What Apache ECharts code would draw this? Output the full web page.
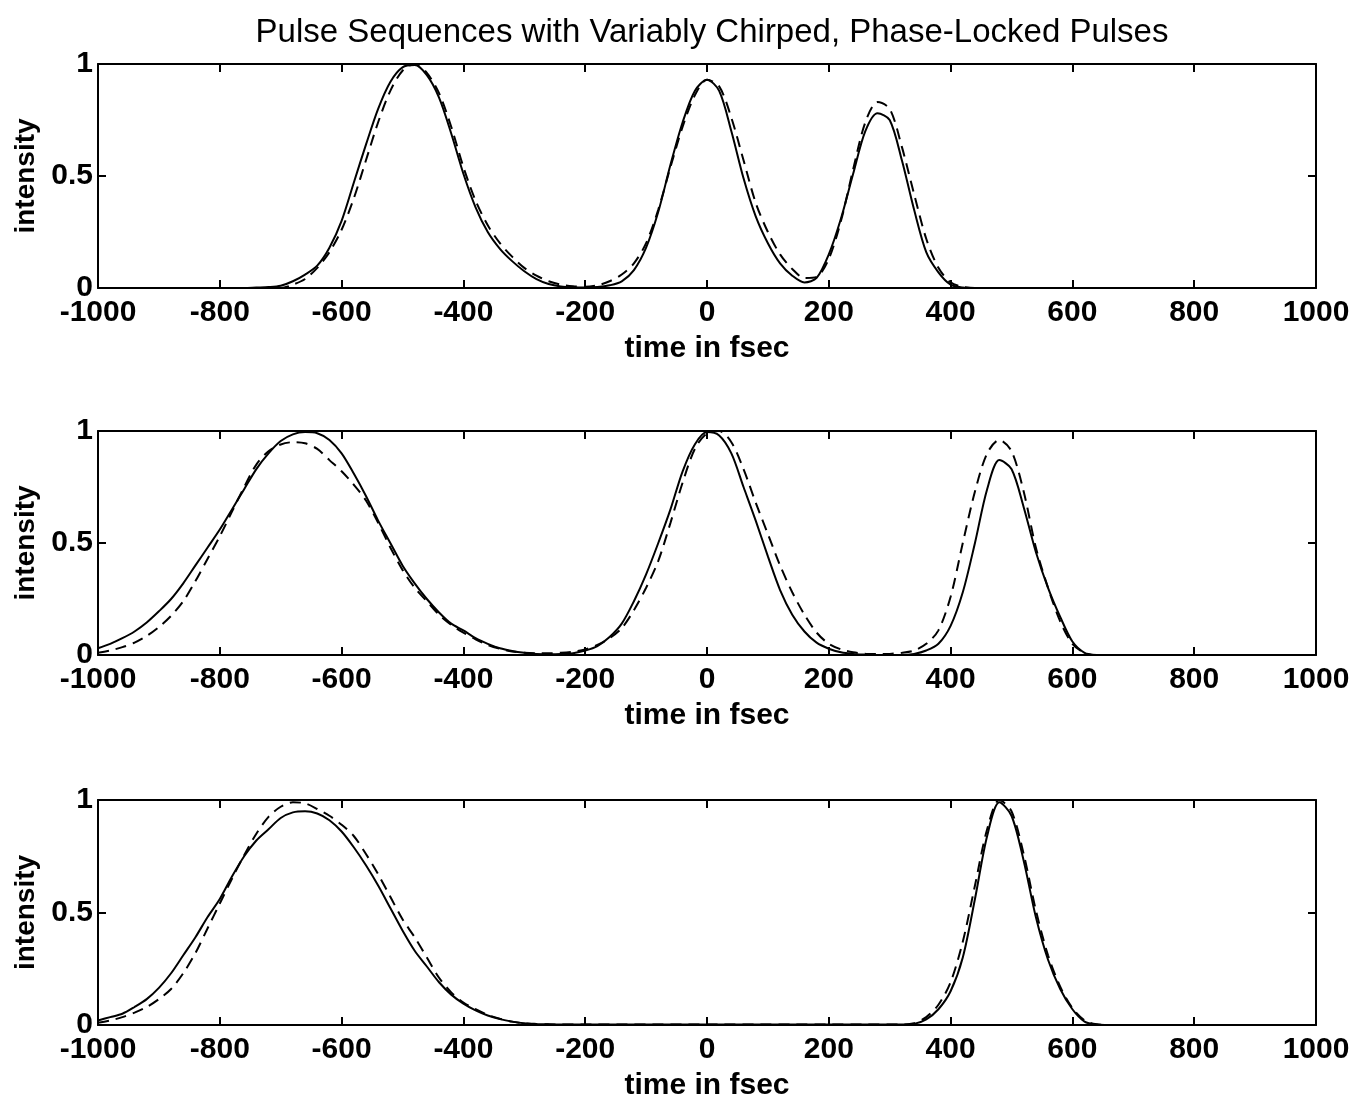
<!DOCTYPE html>
<html>
<head>
<meta charset="utf-8">
<script src="https://cdn.jsdelivr.net/npm/echarts/dist/echarts.min.js"></script>
<style>
html,body{margin:0;padding:0;background:#ffffff;}
#chart{width:1361px;height:1102px;}
</style>
</head>
<body>
<div id="chart"></div>
<script>
// ---- data (time in fsec, intensity) ----
const time = [
  -1000,-980,-960,-940,-920,-900,-880,-860,-840,-820,
  -800,-780,-760,-740,-720,-700,-680,-660,-640,-620,
  -600,-580,-560,-540,-520,-500,-480,-460,-440,-420,
  -400,-380,-360,-340,-320,-300,-280,-260,-240,-220,
  -200,-180,-160,-140,-120,-100,-80,-60,-40,-20,
  0,20,40,60,80,100,120,140,160,180,
  200,220,240,260,280,300,320,340,360,380,
  400,420,440,460,480,500,520,540,560,580,
  600,620,640,660,680,700,720,740,760,780,
  800,820,840,860,880,900,920,940,960,980,
  1000
];

const sub1Solid = [
  0,0,0,0,0,0,0,0,0,0,
  0,0,0,0.002,0.004,0.01,0.03,0.06,0.1,0.18,
  0.3,0.47,0.64,0.8,0.92,0.985,0.995,0.95,0.85,0.69,
  0.51,0.36,0.25,0.175,0.12,0.075,0.04,0.018,0.007,0.003,
  0.002,0.004,0.012,0.03,0.08,0.18,0.34,0.55,0.74,0.88,
  0.93,0.88,0.7,0.49,0.32,0.2,0.11,0.055,0.025,0.045,
  0.15,0.31,0.51,0.7,0.78,0.75,0.57,0.35,0.16,0.07,
  0.015,0.002,0,0,0,0,0,0,0,0,
  0,0,0,0,0,0,0,0,0,0,
  0,0,0,0,0,0,0,0,0,0,
  0
];
const sub1Dash = [
  0,0,0,0,0,0,0,0,0,0,
  0,0,0,0,0,0,0.015,0.04,0.09,0.16,
  0.26,0.4,0.57,0.74,0.88,0.97,1.0,0.96,0.87,0.72,
  0.54,0.39,0.28,0.2,0.14,0.09,0.055,0.03,0.015,0.008,
  0.006,0.012,0.03,0.06,0.11,0.2,0.35,0.54,0.72,0.86,
  0.93,0.9,0.76,0.57,0.38,0.25,0.15,0.085,0.045,0.05,
  0.13,0.3,0.53,0.74,0.83,0.8,0.63,0.42,0.22,0.09,
  0.025,0.005,0,0,0,0,0,0,0,0,
  0,0,0,0,0,0,0,0,0,0,
  0,0,0,0,0,0,0,0,0,0,
  0
];
const sub2Solid = [
  0.03,0.05,0.075,0.105,0.145,0.195,0.25,0.32,0.4,0.48,
  0.56,0.65,0.74,0.83,0.9,0.955,0.985,0.995,0.99,0.96,
  0.9,0.81,0.71,0.6,0.5,0.4,0.32,0.25,0.19,0.14,
  0.11,0.075,0.05,0.03,0.018,0.01,0.005,0.003,0.004,0.008,
  0.02,0.04,0.08,0.14,0.24,0.36,0.5,0.65,0.82,0.94,
  0.995,0.98,0.9,0.75,0.6,0.44,0.29,0.18,0.105,0.055,
  0.028,0.012,0.005,0.002,0,0,0,0.005,0.02,0.05,
  0.13,0.28,0.5,0.74,0.87,0.83,0.66,0.46,0.3,0.17,
  0.06,0.01,0,0,0,0,0,0,0,0,
  0,0,0,0,0,0,0,0,0,0,
  0
];
const sub2Dash = [
  0.01,0.02,0.035,0.055,0.085,0.125,0.175,0.24,0.33,0.43,
  0.53,0.64,0.75,0.85,0.91,0.94,0.95,0.945,0.92,0.87,
  0.82,0.76,0.69,0.59,0.48,0.38,0.3,0.24,0.18,0.135,
  0.1,0.07,0.045,0.028,0.016,0.01,0.008,0.008,0.01,0.015,
  0.025,0.045,0.075,0.12,0.2,0.3,0.42,0.59,0.77,0.92,
  0.99,1.0,0.95,0.83,0.68,0.54,0.4,0.28,0.18,0.1,
  0.05,0.025,0.012,0.006,0.004,0.005,0.01,0.02,0.05,0.11,
  0.26,0.5,0.73,0.9,0.96,0.91,0.73,0.48,0.3,0.15,
  0.05,0.01,0,0,0,0,0,0,0,0,
  0,0,0,0,0,0,0,0,0,0,
  0
];
const sub3Solid = [
  0.02,0.035,0.05,0.08,0.115,0.165,0.23,0.31,0.39,0.48,
  0.56,0.66,0.75,0.82,0.87,0.92,0.945,0.95,0.94,0.91,
  0.86,0.79,0.71,0.62,0.52,0.42,0.33,0.26,0.19,0.135,
  0.095,0.065,0.042,0.026,0.015,0.008,0.005,0.003,0.002,0.002,
  0.002,0.002,0.002,0.002,0.002,0.002,0.002,0.002,0.002,0.002,
  0.002,0.002,0.002,0.002,0.002,0.002,0.002,0.002,0.002,0.002,
  0.002,0.002,0.002,0.002,0.002,0.002,0.002,0.005,0.025,0.07,
  0.15,0.3,0.56,0.84,0.99,0.93,0.73,0.48,0.29,0.16,
  0.07,0.015,0.002,0,0,0,0,0,0,0,
  0,0,0,0,0,0,0,0,0,0,
  0
];
const sub3Dash = [
  0.01,0.02,0.035,0.055,0.08,0.115,0.16,0.23,0.32,0.43,
  0.54,0.65,0.755,0.85,0.925,0.97,0.99,0.985,0.96,0.93,
  0.89,0.84,0.76,0.67,0.57,0.47,0.39,0.3,0.21,0.145,
  0.1,0.07,0.045,0.028,0.015,0.008,0.004,0.003,0.002,0.002,
  0.002,0.002,0.002,0.002,0.002,0.002,0.002,0.002,0.002,0.002,
  0.002,0.002,0.002,0.002,0.002,0.002,0.002,0.002,0.002,0.002,
  0.002,0.002,0.002,0.002,0.002,0.002,0.002,0.008,0.035,0.09,
  0.19,0.37,0.62,0.87,1.0,0.95,0.76,0.51,0.31,0.17,
  0.075,0.02,0.003,0,0,0,0,0,0,0,
  0,0,0,0,0,0,0,0,0,0,
  0
];

const titleText = 'Pulse Sequences with Variably Chirped, Phase-Locked Pulses';
const xName = 'time in fsec';
const yName = 'intensity';

// ---- layout ----
const FONT = '"Liberation Sans", Arial, Helvetica, sans-serif';
const panels = [
  { top: 64,  height: 224, solid: sub1Solid, dash: sub1Dash },
  { top: 431, height: 224, solid: sub2Solid, dash: sub2Dash },
  { top: 800, height: 226, solid: sub3Solid, dash: sub3Dash }
];

const lineStyleAxis = { color: '#000', width: 2 };
const grids = [], xAxes = [], yAxes = [], series = [];

panels.forEach((p, k) => {
  grids.push({ left: 98, width: 1218, top: p.top, height: p.height, containLabel: false });

  xAxes.push({
    type: 'value', gridIndex: k, position: 'bottom',
    min: -1000, max: 1000, interval: 200,
    name: xName, nameLocation: 'middle', nameGap: 46,
    nameTextStyle: { color: '#000', fontSize: 30, fontWeight: 'bold', fontFamily: FONT },
    axisLine: { onZero: false, lineStyle: lineStyleAxis },
    axisTick: { inside: true, length: 8, lineStyle: lineStyleAxis },
    axisLabel: { color: '#000', fontSize: 30, fontWeight: 'bold', fontFamily: FONT, margin: 10,
      formatter: v => String(v) },
    splitLine: { show: false }
  });
  xAxes.push({
    type: 'value', gridIndex: k, position: 'top',
    min: -1000, max: 1000, interval: 200,
    axisLine: { onZero: false, lineStyle: lineStyleAxis },
    axisTick: { inside: true, length: 8, lineStyle: lineStyleAxis },
    axisLabel: { show: false },
    splitLine: { show: false }
  });
  yAxes.push({
    type: 'value', gridIndex: k, position: 'left',
    min: 0, max: 1, interval: 0.5,
    name: yName, nameLocation: 'middle', nameGap: 57, nameRotate: 90,
    nameTextStyle: { color: '#000', fontSize: 28, fontWeight: 'bold', fontFamily: FONT },
    axisLine: { onZero: false, lineStyle: lineStyleAxis },
    axisTick: { inside: true, length: 8, lineStyle: lineStyleAxis },
    axisLabel: { color: '#000', fontSize: 30, fontWeight: 'bold', fontFamily: FONT, margin: 5,
      formatter: v => String(v) },
    splitLine: { show: false }
  });
  yAxes.push({
    type: 'value', gridIndex: k, position: 'right',
    min: 0, max: 1, interval: 0.5,
    axisLine: { onZero: false, lineStyle: lineStyleAxis },
    axisTick: { inside: true, length: 8, lineStyle: lineStyleAxis },
    axisLabel: { show: false },
    splitLine: { show: false }
  });

  series.push({
    type: 'line', xAxisIndex: 2 * k, yAxisIndex: 2 * k,
    data: time.map((t, i) => [t, p.solid[i]]),
    showSymbol: false, smooth: 0.3, silent: true,
    lineStyle: { color: '#000', width: 2 }
  });
  series.push({
    type: 'line', xAxisIndex: 2 * k, yAxisIndex: 2 * k,
    data: time.map((t, i) => [t, p.dash[i]]),
    showSymbol: false, smooth: 0.3, silent: true,
    lineStyle: { color: '#000', width: 2, type: [11, 7] }
  });
});

const chart = echarts.init(document.getElementById('chart'), null, { renderer: 'canvas' });
chart.setOption({
  animation: false,
  backgroundColor: '#ffffff',
  title: {
    text: titleText, left: 707, top: 11, textAlign: 'center',
    textStyle: { color: '#000', fontSize: 33, fontWeight: 'normal', fontFamily: FONT }
  },
  grid: grids,
  xAxis: xAxes,
  yAxis: yAxes,
  series: series
});
</script>
</body>
</html>
